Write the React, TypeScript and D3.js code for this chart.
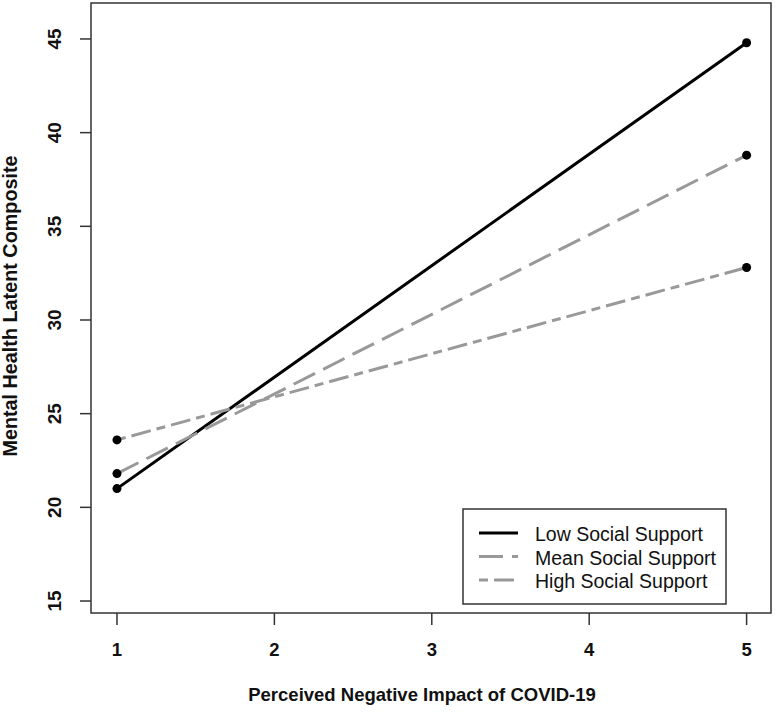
import React from "react";
import * as d3 from "d3";

const xValues = [1, 5];
const lowSupport = [21.0, 44.8];
const meanSupport = [21.8, 38.8];
const highSupport = [23.6, 32.8];
const seriesNames = ["Low Social Support", "Mean Social Support", "High Social Support"];
const xTicks = [1, 2, 3, 4, 5];
const yTicks = [15, 20, 25, 30, 35, 40, 45];

const W = 777;
const H = 713;
const L = 91, R = 771, T = 3, B = 613;
const FONT = "'Liberation Sans', Arial, Helvetica, sans-serif";

export default function App() {
  const x = d3.scaleLinear().domain([0.835, 5.155]).range([L, R]);
  const y = d3.scaleLinear().domain([14.36, 46.92]).range([B, T]);
  const series = [
    { name: seriesNames[0], vals: lowSupport, color: "#000000", dash: "" },
    { name: seriesNames[1], vals: meanSupport, color: "#999999", dash: "24 9" },
    { name: seriesNames[2], vals: highSupport, color: "#999999", dash: "9 6 20 6" },
  ];
  const line = d3.line<[number, number]>().x(d => x(d[0])).y(d => y(d[1]));

  return (
    <svg width={W} height={H} style={{ position: "absolute", left: 0, top: 0, background: "#fff" }} fontFamily={FONT}>
      <rect x={0} y={0} width={W} height={H} fill="#fff" />
      {series.map((s, i) => (
        <g key={i}>
          <path
            d={line(xValues.map((xv, j) => [xv, s.vals[j]] as [number, number])) || ""}
            fill="none"
            stroke={s.color}
            strokeWidth={3}
            strokeDasharray={s.dash}
          />
          {xValues.map((xv, j) => (
            <circle key={j} cx={x(xv)} cy={y(s.vals[j])} r={4.5} fill="#000" />
          ))}
        </g>
      ))}
      <rect x={L} y={T} width={R - L} height={B - T} fill="none" stroke="#333" strokeWidth={1.5} />
      {yTicks.map(t => (
        <g key={t}>
          <line x1={L - 11} x2={L} y1={y(t)} y2={y(t)} stroke="#333" strokeWidth={1.5} />
          <text
            transform={`translate(${L - 35},${y(t)}) rotate(-90)`}
            textAnchor="middle"
            dominantBaseline="middle"
            fontSize={19}
            fontWeight="bold"
            fill="#111"
          >
            {t}
          </text>
        </g>
      ))}
      {xTicks.map(t => (
        <g key={t}>
          <line x1={x(t)} x2={x(t)} y1={B} y2={B + 12} stroke="#333" strokeWidth={1.5} />
          <text x={x(t)} y={656} textAnchor="middle" fontSize={18.5} fontWeight="bold" fill="#111">
            {t}
          </text>
        </g>
      ))}
      <text x={(L + R) / 2 - 9} y={701} textAnchor="middle" fontSize={18.5} fontWeight="bold" fill="#111">
        Perceived Negative Impact of COVID-19
      </text>
      <text
        transform={`translate(16.5,306) rotate(-90)`}
        textAnchor="middle"
        fontSize={19.8}
        fontWeight="bold"
        fill="#111"
      >
        Mental Health Latent Composite
      </text>
      <g>
        <rect x={463} y={509} width={263} height={95} fill="#fff" stroke="#333" strokeWidth={1.5} />
        {series.map((s, i) => (
          <g key={i}>
            <line
              x1={479}
              x2={518}
              y1={533 + i * 23.5}
              y2={533 + i * 23.5}
              stroke={s.color}
              strokeWidth={3}
              strokeDasharray={s.dash}
            />
            <text x={535} y={534 + i * 23.5} dominantBaseline="central" fontSize={19.5} fill="#111">
              {s.name}
            </text>
          </g>
        ))}
      </g>
    </svg>
  );
}
